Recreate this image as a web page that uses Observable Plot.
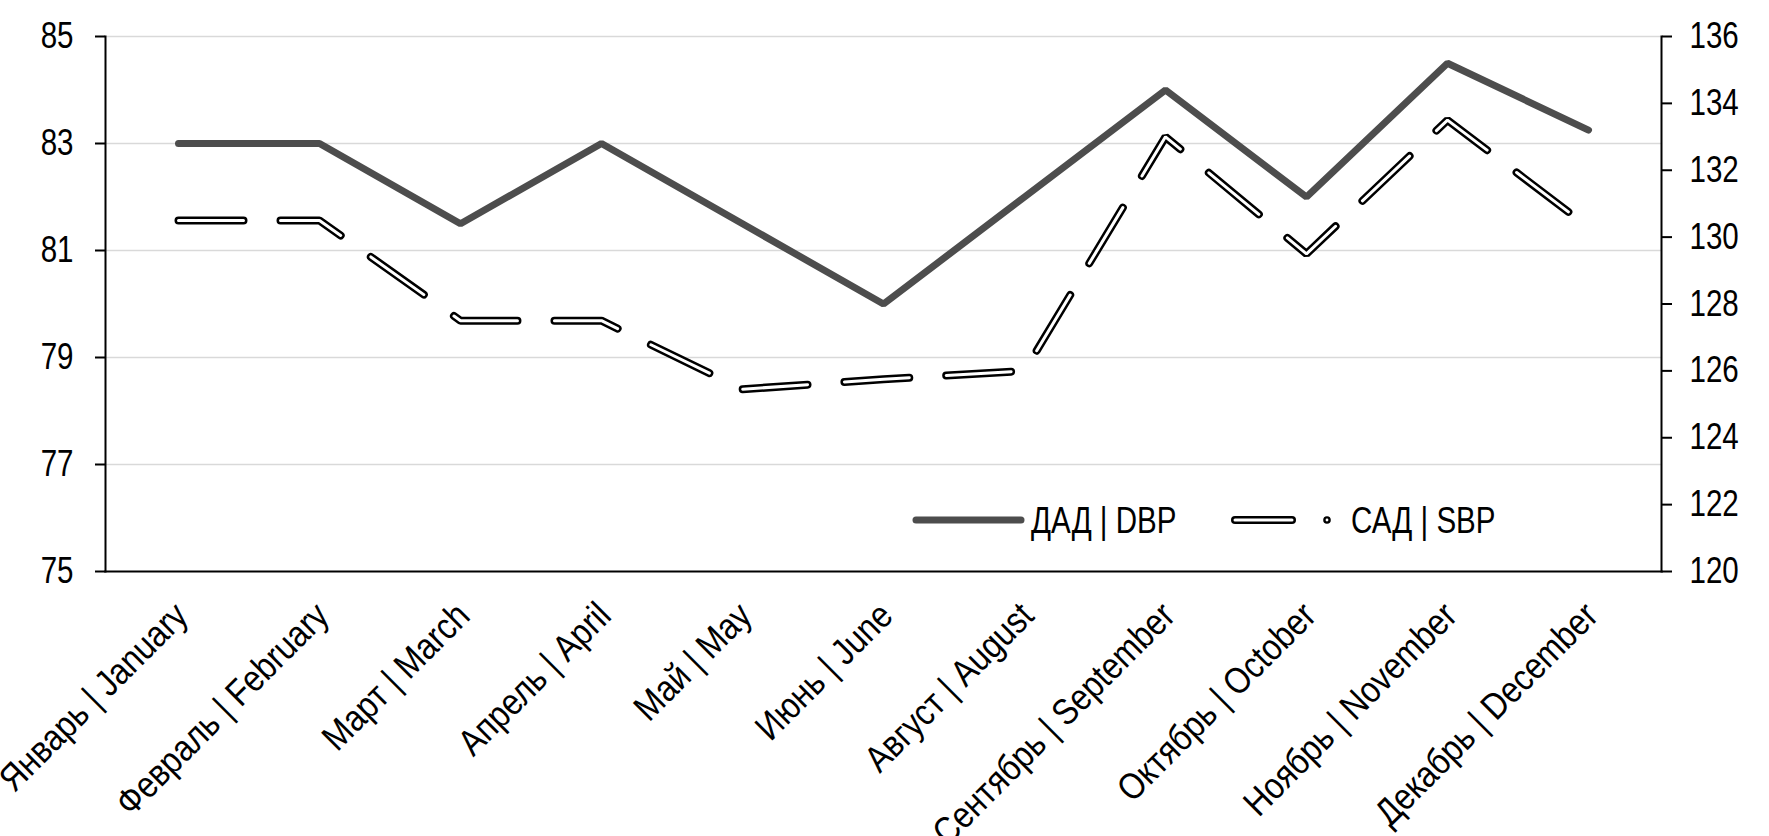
<!DOCTYPE html>
<html><head><meta charset="utf-8">
<script src="https://cdn.jsdelivr.net/npm/d3@7"></script>
<script src="https://cdn.jsdelivr.net/npm/@observablehq/plot@0.6"></script>
<style>
body{margin:0;background:#fff;}
#chart{position:relative;width:1769px;height:836px;}
</style>
</head><body><div id="chart"></div>
<script>
const months = ["Январь | January", "Февраль | February", "Март | March", "Апрель | April", "Май | May", "Июнь | June", "Август | August", "Сентябрь | September", "Октябрь | October", "Ноябрь | November", "Декабрь | December"];
const dbp = [83, 83, 81.5, 83, 81.5, 80, 82, 84, 82, 84.5, 83.25];
const sbp = [130.5, 130.5, 127.5, 127.5, 125.45, 125.75, 126.0, 133.0, 129.5, 133.5, 130.3];
const leftTicks = [75, 77, 79, 81, 83, 85];
const rightTicks = [120, 122, 124, 126, 128, 130, 132, 134, 136];
const seriesNames = ["ДАД | DBP", "САД | SBP"];

const leftDomain = [75, 85];
const rightDomain = [120, 136];
const toLeft = d3.scaleLinear(rightDomain, leftDomain);
const data = months.map((m, i) => ({month: m, dbp: dbp[i], sbp: sbp[i]}));
const font = "'Liberation Sans', Arial, sans-serif";
const narrow = 0.82;   // Arial Narrow look for y ticks and legend
const narrowX = 0.86;  // month labels

const plot = Plot.plot({
  width: 1769, height: 836,
  marginTop: 36, marginBottom: 265, marginLeft: 105, marginRight: 108,
  style: {fontFamily: font, fontSize: "36px", color: "#000", background: "#fff", overflow: "visible"},
  x: {type: "point", domain: months, padding: 0.5},
  y: {domain: leftDomain},
  marks: [
    Plot.ruleY(leftTicks.filter(t => t > leftDomain[0]), {stroke: "#d9d9d9", strokeWidth: 1.6}),
    Plot.frame({anchor: "left", stroke: "#000", strokeWidth: 2}),
    Plot.frame({anchor: "right", stroke: "#000", strokeWidth: 2}),
    Plot.frame({anchor: "bottom", stroke: "#000", strokeWidth: 2}),
    Plot.axisY(leftTicks, {anchor: "left", tickFormat: d => String(d), tickSize: 10, tickPadding: 22, fontSize: 36, label: null, strokeWidth: 2}),
    Plot.axisY(rightTicks, {anchor: "right", y: toLeft, tickFormat: d => String(d), tickSize: 10, tickPadding: 18, fontSize: 36, label: null, strokeWidth: 2}),
    Plot.axisX({tickRotate: -45, tickSize: 0, tickPadding: 38, dx: 3, fontSize: 37, label: null}),
    Plot.line(data, {x: "month", y: "dbp", stroke: "#4d4d4d", strokeWidth: 7, strokeLinecap: "round", strokeLinejoin: "miter"}),
    Plot.line(data, {x: "month", y: d => toLeft(d.sbp), stroke: "#000", strokeWidth: 8, strokeDasharray: "65,37", strokeLinecap: "round", strokeLinejoin: "miter"}),
    Plot.line(data, {x: "month", y: d => toLeft(d.sbp), stroke: "#fff", strokeWidth: 3, strokeDasharray: "65,37", strokeLinecap: "round", strokeLinejoin: "miter"})
  ]
});
document.getElementById("chart").appendChild(plot);

const svg = d3.select(plot);

// legend inside plot area
const lg = svg.append("g").attr("class", "legend").attr("font-family", font).attr("font-size", 36).attr("fill", "#000").attr("text-anchor", "start");
const ly = 520;
lg.append("line").attr("x1", 916).attr("x2", 1021).attr("y1", ly).attr("y2", ly)
  .attr("stroke", "#4d4d4d").attr("stroke-width", 7).attr("stroke-linecap", "round");
lg.append("text").attr("x", 1031).attr("y", ly).attr("dy", "0.36em").text(seriesNames[0]);
lg.append("line").attr("x1", 1235).attr("x2", 1292).attr("y1", ly).attr("y2", ly)
  .attr("stroke", "#000").attr("stroke-width", 8).attr("stroke-linecap", "round");
lg.append("line").attr("x1", 1235).attr("x2", 1292).attr("y1", ly).attr("y2", ly)
  .attr("stroke", "#fff").attr("stroke-width", 3).attr("stroke-linecap", "round");
lg.append("circle").attr("cx", 1327).attr("cy", ly).attr("r", 2.6)
  .attr("fill", "#fff").attr("stroke", "#000").attr("stroke-width", 2.4);
lg.append("text").attr("x", 1351).attr("y", ly).attr("dy", "0.36em").text(seriesNames[1]);

// condensed glyphs (Arial Narrow look) without moving anchors
function condense(selector, k) {
  svg.selectAll(selector).each(function() {
    const L = this.getComputedTextLength();
    if (L > 0) {
      this.setAttribute("textLength", (L * k).toFixed(2));
      this.setAttribute("lengthAdjust", "spacingAndGlyphs");
    }
  });
}
condense("g[aria-label='y-axis tick label'] text, g.legend text", narrow);
condense("g[aria-label='x-axis tick label'] text", narrowX);
</script>
</body></html>
